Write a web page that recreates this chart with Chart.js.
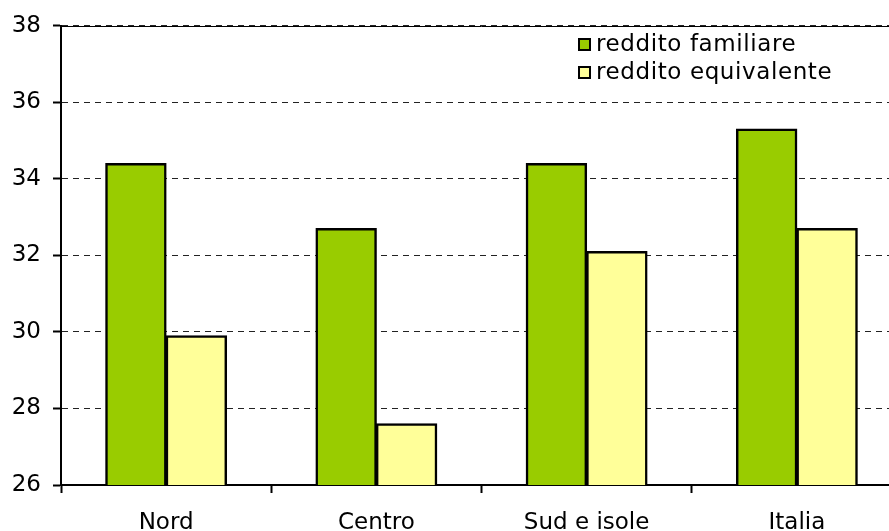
<!DOCTYPE html>
<html>
<head>
<meta charset="utf-8">
<script src="https://cdn.jsdelivr.net/npm/chart.js@4"></script>
<style>
html,body{margin:0;padding:0;background:#fff;overflow:hidden;width:889px;height:531px;}
#wrap{width:910px;height:531px;}
</style>
</head>
<body>
<div id="wrap"><canvas id="c" width="910" height="531"></canvas></div>
<script>
const categories = ["Nord", "Centro", "Sud e isole", "Italia"];
const familiare = [34.4, 32.7, 34.4, 35.3];
const equivalente = [29.9, 27.6, 32.1, 32.7];
const seriesNames = ["reddito familiare", "reddito equivalente"];
const yTicks = [26, 28, 30, 32, 34, 36, 38];

const FONT = "DejaVu Sans, Verdana, sans-serif";

const legendPlugin = {
  id: 'inlineLegend',
  afterDraw(chart) {
    const ctx = chart.ctx;
    const ca = chart.chartArea;
    ctx.save();
    // solid top line
    ctx.strokeStyle = '#000';
    ctx.lineWidth = 1;
    ctx.beginPath();
    ctx.moveTo(ca.left, Math.round(ca.top) + 0.5);
    ctx.lineTo(ca.right, Math.round(ca.top) + 0.5);
    ctx.stroke();
    // legend
    const rows = [45, 73];
    chart.data.datasets.forEach((ds, i) => {
      const y = rows[i];
      ctx.fillStyle = ds.backgroundColor;
      ctx.fillRect(579, y - 6, 11, 11);
      ctx.strokeStyle = '#000';
      ctx.lineWidth = 2;
      ctx.strokeRect(579, y - 6, 11, 11);
      ctx.fillStyle = '#000';
      ctx.font = "23px " + FONT;
      if ('letterSpacing' in ctx) ctx.letterSpacing = '0.6px';
      ctx.textBaseline = 'middle';
      ctx.textAlign = 'left';
      ctx.fillText(ds.label, 596, y);
    });
    ctx.restore();
  }
};

new Chart(document.getElementById('c'), {
  type: 'bar',
  data: {
    labels: categories,
    datasets: [
      { label: seriesNames[0], data: familiare, backgroundColor: '#99CC00', borderColor: '#000', borderWidth: 2.5, borderSkipped: 'start' },
      { label: seriesNames[1], data: equivalente, backgroundColor: '#FFFF99', borderColor: '#000', borderWidth: 2.5, borderSkipped: 'start' }
    ]
  },
  options: {
    responsive: false,
    animation: false,
    devicePixelRatio: 1,
    layout: { padding: { top: 24, right: 8, left: 0, bottom: 0 } },
    datasets: { bar: { categoryPercentage: 0.575, barPercentage: 1.0, inflateAmount: 0.5 } },
    plugins: { legend: { display: false }, tooltip: { enabled: false } },
    scales: {
      x: {
        offset: true,
        grid: { display: true, drawOnChartArea: false, drawTicks: true, tickLength: 8, tickWidth: 2, tickColor: '#000', offset: true },
        border: { display: true, color: '#000', width: 2 },
        ticks: { color: '#000', font: { family: FONT, size: 23 }, padding: 16, maxRotation: 0 },
        afterFit(s) { s.height = 46; }
      },
      y: {
        min: 26, max: 38,
        afterBuildTicks(s) { s.ticks = yTicks.map(v => ({ value: v })); },
        grid: { color: '#222', lineWidth: 1, drawTicks: true, tickLength: 8, tickWidth: 2, tickColor: '#000', tickBorderDash: [] },
        border: { display: true, color: '#000', width: 2, dash: [6, 5] },
        ticks: { color: '#000', font: { family: FONT, size: 23 }, padding: 12 },
        afterFit(s) { s.width = 61; }
      }
    }
  },
  plugins: [legendPlugin]
});
</script>
</body>
</html>
